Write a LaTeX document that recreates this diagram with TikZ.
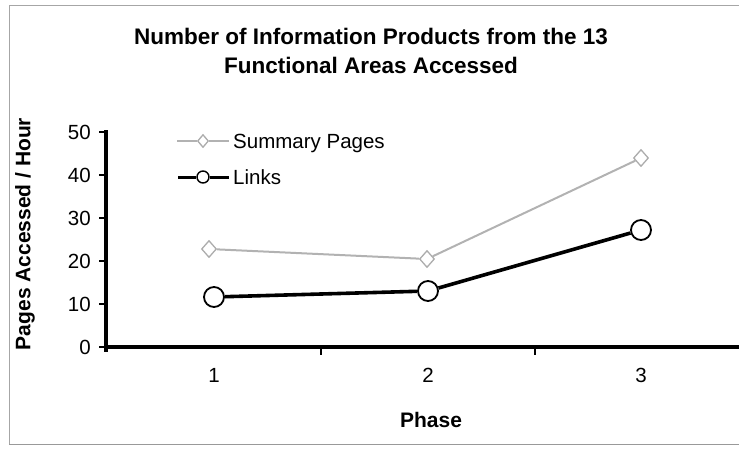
\documentclass[tikz,border=0pt]{standalone}
\usepackage{fontspec}
\setmainfont{Liberation Sans}
\usetikzlibrary{shapes.geometric}

\begin{document}
\begin{tikzpicture}[x=1pt,y=1pt,
	linkpt/.style={circle,draw=black,fill=white,line width=1.8pt,minimum size=20pt,inner sep=0pt},
	linkkey/.style={linkpt,minimum size=12pt,line width=1.4pt},
	sumpt/.style={diamond,draw=gray!65,fill=white,line width=1.3pt,minimum width=15pt,minimum height=17pt,inner sep=0pt},
	sumkey/.style={sumpt,minimum width=11pt,minimum height=13pt},
	linkline/.style={black,line width=3.6pt},
	sumline/.style={gray!60,line width=2pt},
	lbl/.style={font=\fontsize{20.5}{25}\selectfont,inner sep=0pt},
	boldlbl/.style={font=\fontsize{21}{25}\selectfont\bfseries,inner sep=0pt}]
	\useasboundingbox (0,0) rectangle (739,-448);
	% frame
	\draw [gray!70,line width=0.8pt] (9,-444) -- (9,-5) -- (739,-5);
	\draw [gray!80,line width=1pt] (9,-444) -- (739,-444);
	% title
	\node [font=\fontsize{22.5}{28.5}\selectfont\bfseries,align=center,inner sep=0pt] (title) at (371,-51) {Number of Information Products from the 13\\Functional Areas Accessed};
	% axes
	\draw [black,line width=3.2pt] (106,-130) -- (106,-352);
	\draw [black,line width=3.2pt] (106,-347) -- (749,-347);
	\foreach \v in {0,1,...,5} {
		\draw [black,line width=2.5pt] (99,{-347+43*\v}) -- (106,{-347+43*\v});
		\node [lbl,anchor=east] (ytick\v) at (91,{-347+43*\v}) {\number\numexpr\v*10\relax};
	}
	\foreach \x in {321,535} \draw [black,line width=2.5pt] (\x,-347) -- (\x,-355);
	\node [lbl] (xtick1) at (214,-375) {1};
	\node [lbl] (xtick2) at (428,-375) {2};
	\node [lbl] (xtick3) at (641,-375) {3};
	\node [boldlbl] (xlabel) at (431,-420) {Phase};
	\node [boldlbl,rotate=90] (ylabel) at (25,-234) {Pages Accessed / Hour};
	% legend
	\coordinate (sk0) at (177,-141);
	\coordinate (sk1) at (229,-141);
	\node [sumkey] (skey) at (203,-141) {};
	\draw [sumline,line width=1.5pt] (sk0) -- (skey) -- (sk1);
	\node [lbl,anchor=west] (stext) at (233,-143) {Summary Pages};
	\coordinate (lk0) at (178,-177);
	\coordinate (lk1) at (229,-177);
	\node [linkkey] (lkey) at (203,-177) {};
	\draw [linkline,line width=3pt] (lk0) -- (lkey) -- (lk1);
	\node [lbl,anchor=west] (ltext) at (233,-177) {Links};
	% summary pages
	\node [sumpt] (s1) at (209,-249) {};
	\node [sumpt] (s2) at (427,-259) {};
	\node [sumpt] (s3) at (641,-158) {};
	\draw [sumline] (s1) -- (s2) -- (s3);
	% links
	\node [linkpt] (l1) at (214,-297) {};
	\node [linkpt] (l2) at (428,-291) {};
	\node [linkpt] (l3) at (641,-230) {};
	\draw [linkline] (l1) -- (l2) -- (l3);
\end{tikzpicture}
\end{document}
